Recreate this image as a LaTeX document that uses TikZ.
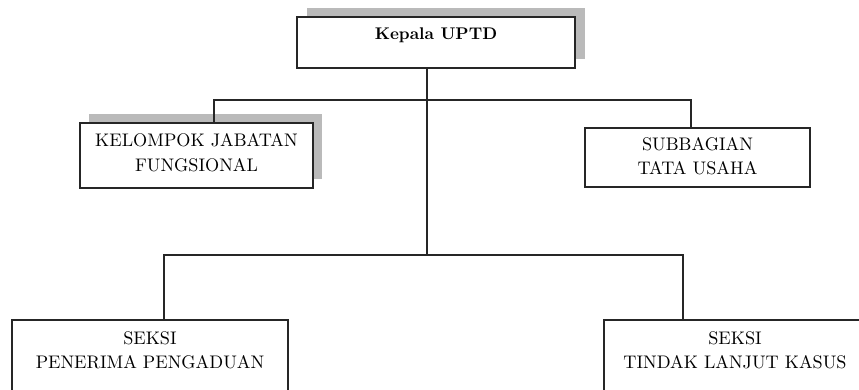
\documentclass[tikz,border=0pt]{standalone}
\usepackage{fontspec}
\setmainfont{lmroman10-regular.otf}[BoldFont=lmroman10-bold.otf]
\begin{document}
\begin{tikzpicture}[x=1pt,y=-1pt,
  line width=1.1pt,
  box/.style={draw=black!85, fill=white, rectangle, inner sep=0pt, line width=1.1pt},
  shadowbox/.style={fill=black!27, draw=none, rectangle, inner sep=0pt},
  lbl/.style={align=center, inner sep=0pt, font=\fontsize{18.2}{24.5}\selectfont},
  conn/.style={draw=black!85, line width=1.1pt}]
\useasboundingbox (0,0) rectangle (859,390);
\clip (0,0) rectangle (859,390);
\fill[white] (0,0) rectangle (859,390);
% shadows
\node[shadowbox, minimum width=278pt, minimum height=51pt] (topsh) at (446,33.5) {};
\node[shadowbox, minimum width=233pt, minimum height=65pt] (kjfsh) at (205.5,146.5) {};
% boxes
\node[box, minimum width=278pt, minimum height=51pt] (top) at (436,42.5) {};
\node[box, minimum width=233pt, minimum height=65pt] (kjf) at (196.5,155.5) {};
\node[box, minimum width=225pt, minimum height=59pt] (sub) at (697.5,157.5) {};
\node[box, minimum width=276pt, minimum height=90pt] (ppl) at (150,365) {};
\node[box, minimum width=262pt, minimum height=90pt] (tlk) at (735,365) {};
% texts
\node[inner sep=0pt, font=\bfseries\fontsize{16.9}{20}\selectfont] (toptxt) at (436,35) {Kepala UPTD};
\node[lbl] (kjftxt) at (196.5,152.5) {KELOMPOK JABATAN\\FUNGSIONAL};
\node[lbl] (subtxt) at (697.5,156) {SUBBAGIAN\\TATA USAHA};
\node[lbl] (ppltxt) at (150,350.5) {SEKSI\\PENERIMA PENGADUAN};
\node[lbl] (tlktxt) at (735,350.5) {SEKSI\\TINDAK LANJUT KASUS};
% junctions
\coordinate (j1) at (427,100);
\coordinate (j2) at (427,255);
\coordinate (a) at (214,100);
\coordinate (b) at (691,100);
\coordinate (c) at (164,255);
\coordinate (d) at (683,255);
% connectors
\draw[conn] (j1 |- top.south) -- (j2);
\draw[conn] (a |- kjf.north) -- (a) -- (b) -- (b |- sub.north);
\draw[conn] (c |- ppl.north) -- (c) -- (d) -- (d |- tlk.north);
\end{tikzpicture}
\end{document}
